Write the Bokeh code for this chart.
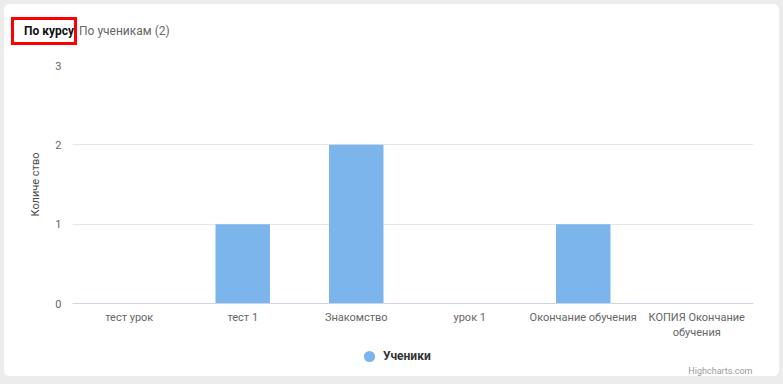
from bokeh.plotting import figure
from bokeh.models import FactorRange, FixedTicker, Legend, LegendItem, Div, Label
from bokeh.layouts import column
from bokeh.embed import file_html
from bokeh.resources import INLINE

categories = ["тест урок", "тест 1", "Знакомство", "урок 1", "Окончание обучения", "КОПИЯ Окончание\nобучения"]
students = [0, 1, 2, 0, 1, 0]
y_ticks = [0, 1, 2, 3]
series_name = "Ученики"
y_title = "Количе ство"
tab_active = "По курсу"
tab_other = "По ученикам (2)"
credits = "Highcharts.com"

FONT = "'Liberation Sans Narrow', Roboto, sans-serif"
BAR = "#7cb5ec"

tabs = Div(text=(
    '<div style="position:relative;box-sizing:border-box;width:775px;height:46px;margin:0;padding:0;'
    'font-family:Roboto,sans-serif;font-size:12px;">'
    '<div style="position:absolute;box-sizing:border-box;left:7px;top:13px;width:66px;height:28px;'
    'padding:0 0 0 10px;margin:0;border:3px solid #ff0000;display:flex;align-items:center;white-space:nowrap;'
    f'font-weight:bold;color:#111;line-height:14px;">{tab_active}</div>'
    '<div style="position:absolute;left:75px;top:20px;margin:0;line-height:14px;white-space:nowrap;'
    f'color:#666;">{tab_other}</div></div>'),
    width=775, height=46, margin=0, styles={"background-color": "#ffffff"})

p = figure(x_range=FactorRange(*categories, range_padding=0), y_range=(0, 3),
           width=775, height=293, output_backend="svg", toolbar_location=None,
           min_border_top=15, min_border_bottom=40, min_border_left=68, min_border_right=26)
p.frame_width = 681
p.frame_height = 238
p.outline_line_color = None
p.background_fill_color = "white"
p.border_fill_color = "white"

p.vbar(x=categories, top=students, width=0.48, fill_color=BAR, line_color=None)

p.xgrid.grid_line_color = None
p.ygrid.grid_line_color = "#e6e6e6"
p.ygrid.ticker = FixedTicker(ticks=y_ticks)

ya = p.yaxis[0]
ya.ticker = FixedTicker(ticks=y_ticks)
ya.axis_line_color = None
ya.major_tick_line_color = None
ya.minor_tick_line_color = None
ya.major_tick_out = 0
ya.major_label_standoff = 11
ya.major_label_text_font = FONT
ya.major_label_text_font_size = "11px"
ya.major_label_text_color = "#666666"
ya.axis_label = y_title
ya.axis_label_text_font = FONT
ya.axis_label_text_font_size = "11px"
ya.axis_label_text_font_style = "normal"
ya.axis_label_text_color = "#4a4a4a"
ya.axis_label_standoff = 10

xa = p.xaxis[0]
xa.axis_line_color = "#ccd6eb"
xa.axis_line_width = 1
xa.major_tick_line_color = None
xa.minor_tick_line_color = None
xa.major_tick_out = 0
xa.major_label_standoff = 7
xa.major_label_text_font = FONT
xa.major_label_text_font_size = "11px"
xa.major_label_text_color = "#666666"

# legend + credits strip; its frame is aligned with the chart frame (681 px wide)
q = figure(x_range=(0, 681), y_range=(0, 33), width=775, height=33,
           output_backend="svg", toolbar_location=None,
           x_axis_location=None, y_axis_location=None, min_border=0)
q.grid.visible = False
q.outline_line_color = None
q.background_fill_color = "white"
q.border_fill_color = "white"
dot = q.scatter(x=[-1000], y=[-1000], size=11, marker="circle", fill_color=BAR, line_color=None)
legend = Legend(items=[LegendItem(label=series_name, renderers=[dot])],
                orientation="horizontal", location=(283, 6),
                label_text_font=FONT, label_text_font_size="12px",
                label_text_font_style="bold", label_text_color="#333333",
                glyph_width=28, glyph_height=28, label_standoff=-4,
                border_line_color=None, background_fill_alpha=0,
                padding=0, margin=0, spacing=0)
q.add_layout(legend)
q.add_layout(Label(x=680, y=6, text=credits, text_font=FONT, text_font_size="9px",
                   text_color="#999999", text_align="right", text_baseline="middle"))

layout = column(tabs, p, q, spacing=0,
                styles={"margin": "4px", "background-color": "#ffffff",
                        "border-radius": "6px", "overflow": "hidden"})

html = file_html(layout, INLINE)
html = html.replace("</head>", "<style>html, body { background: #ececec; }</style></head>", 1)
open("out.html", "w").write(html)
